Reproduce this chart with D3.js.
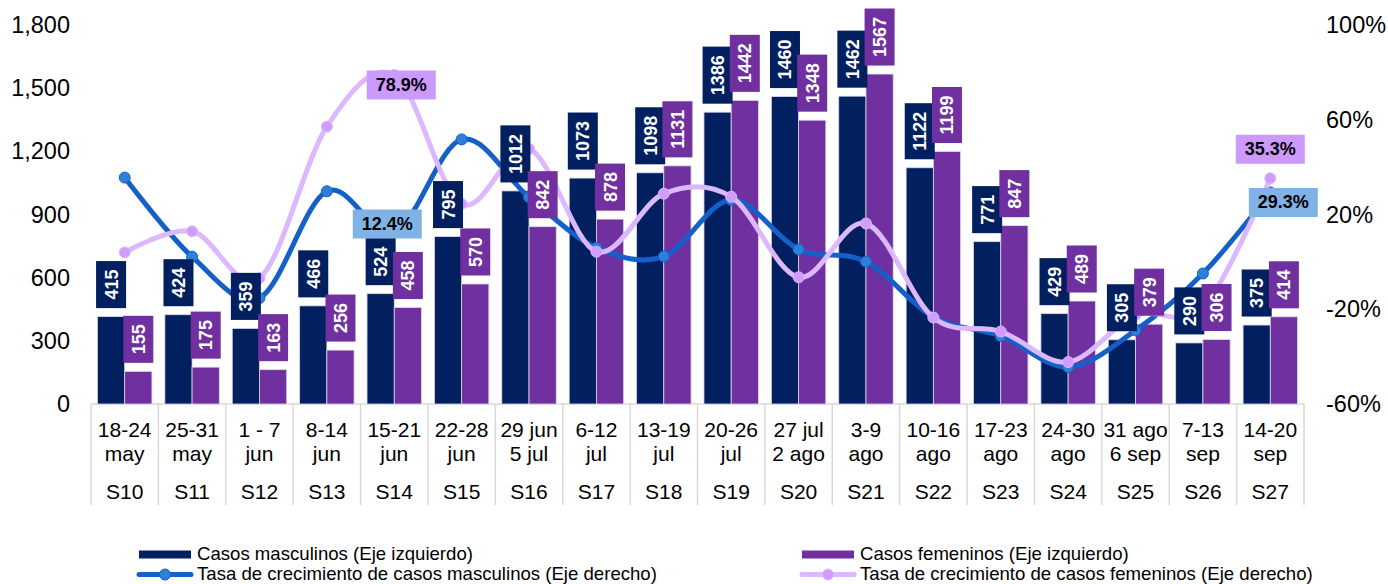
<!DOCTYPE html>
<html>
<head>
<meta charset="utf-8">
<script src="https://cdn.jsdelivr.net/npm/d3@7/dist/d3.min.js"></script>
<style>
  html, body { margin: 0; padding: 0; background: #ffffff; }
  svg { display: block; font-family: "Liberation Sans", Arial, sans-serif; }
</style>
</head>
<body>
<svg id="chart" width="1388" height="584"></svg>
<script>
// ---------------- DATA ----------------
const weeks = ["S10","S11","S12","S13","S14","S15","S16","S17","S18","S19","S20","S21","S22","S23","S24","S25","S26","S27"];
const dateLine1 = ["18-24","25-31","1 - 7","8-14","15-21","22-28","29 jun","6-12","13-19","20-26","27 jul","3-9","10-16","17-23","24-30","31 ago","7-13","14-20"];
const dateLine2 = ["may","may","jun","jun","jun","jun","5 jul","jul","jul","jul","2 ago","ago","ago","ago","ago","6 sep","sep","sep"];
const maleCases = [415,424,359,466,524,795,1012,1073,1098,1386,1460,1462,1122,771,429,305,290,375];
const femaleCases = [155,175,163,256,458,570,842,878,1131,1442,1348,1567,1199,847,489,379,306,414];
const maleGrowth = [35.6,2.2,-15.3,29.8,12.4,51.7,27.3,6.0,2.3,26.2,5.3,0.1,-23.3,-31.3,-44.4,-28.9,-4.9,29.3];
const femaleGrowth = [4.0,12.9,-6.9,57.1,78.9,24.5,47.7,4.3,28.8,27.5,-6.5,16.2,-23.5,-29.4,-42.3,-22.5,-19.3,35.3];
const leftTicks = [0,300,600,900,1200,1500,1800];
const rightTicks = [-60,-20,20,60,100];
const seriesNames = ["Casos masculinos (Eje izquierdo)","Casos femeninos (Eje izquierdo)",
  "Tasa de crecimiento de casos masculinos (Eje derecho)","Tasa de crecimiento de casos femeninos (Eje derecho)"];
// indices of growth points that carry a percentage label
const maleLabelIdx = [4,17];
const femaleLabelIdx = [4,17];

// ---------------- STYLE ----------------
const C = {
  male: "#021f5f", female: "#7030a0",
  maleLine: "#1560c8", maleMarker: "#2e7fd8",
  femaleLine: "#dbb8ff", femaleMarker: "#d09cff",
  maleBox: "#80b2e6", femaleBox: "#cc99ff",
  grid: "#d9d9d9", text: "#000000"
};

const svg = d3.select("#chart");
const plotL = 91, plotR = 1304, plotT = 25, plotB = 404;

const x = d3.scaleBand().domain(weeks).range([plotL, plotR]).padding(0);
const bw = x.bandwidth();
const x1 = d3.scaleBand().domain(["m","f"]).range([bw*0.096, bw*0.904]).padding(0);
const yL = d3.scaleLinear().domain([0,1800]).range([plotB, plotT]);
const yR = d3.scaleLinear().domain([-60,100]).range([plotB, plotT]);

// ---------------- AXES ----------------
const axL = svg.append("g").attr("transform", "translate(70,0)")
  .call(d3.axisLeft(yL).tickValues(leftTicks).tickSize(0).tickPadding(0).tickFormat(d3.format(",")));
axL.select(".domain").remove();
axL.selectAll("text").attr("font-size", "23.5px").attr("fill", C.text)
  .attr("font-family", "Liberation Sans, Arial, sans-serif");

const axR = svg.append("g").attr("transform", "translate(1326,0)")
  .call(d3.axisRight(yR).tickValues(rightTicks).tickSize(0).tickPadding(0).tickFormat(d => d + "%"));
axR.select(".domain").remove();
axR.selectAll("text").attr("font-size", "23.5px").attr("fill", C.text)
  .attr("font-family", "Liberation Sans, Arial, sans-serif");

// category axis frame
const xg = svg.append("g");
xg.append("line").attr("x1", plotL).attr("x2", plotR).attr("y1", plotB).attr("y2", plotB)
  .attr("stroke", C.grid).attr("stroke-width", 1.5);
const bounds = weeks.map(w => x(w)).concat([x(weeks[weeks.length-1]) + bw]);
xg.selectAll("line.sep").data(bounds).join("line").attr("class","sep")
  .attr("x1", d => d).attr("x2", d => d).attr("y1", plotB).attr("y2", 505)
  .attr("stroke", C.grid).attr("stroke-width", 1.5);
const lab = xg.selectAll("g.cat").data(weeks).join("g").attr("class","cat")
  .attr("transform", d => `translate(${x(d) + bw/2},0)`);
lab.append("text").attr("y", 436.5).attr("text-anchor","middle").attr("font-size","21px")
  .text((d,i) => dateLine1[i]);
lab.append("text").attr("y", 461).attr("text-anchor","middle").attr("font-size","21px")
  .text((d,i) => dateLine2[i]);
lab.append("text").attr("y", 499).attr("text-anchor","middle").attr("font-size","21px")
  .text(d => d);

// ---------------- BARS ----------------
const bars = svg.append("g");
bars.selectAll("rect.m").data(maleCases).join("rect").attr("class","m")
  .attr("x", (d,i) => x(weeks[i]) + x1("m")).attr("width", x1.bandwidth())
  .attr("y", d => yL(d)).attr("height", d => yL(0) - yL(d))
  .attr("fill", C.male).attr("stroke", "#dcd8e6").attr("stroke-width", 0.8);
bars.selectAll("rect.f").data(femaleCases).join("rect").attr("class","f")
  .attr("x", (d,i) => x(weeks[i]) + x1("f")).attr("width", x1.bandwidth())
  .attr("y", d => yL(d)).attr("height", d => yL(0) - yL(d))
  .attr("fill", C.female).attr("stroke", "#dcd8e6").attr("stroke-width", 0.8);

// ---------------- LINES ----------------
const xc = i => x(weeks[i]) + bw/2;
const lineM = d3.line().x((d,i) => xc(i)).y(d => yR(d)).curve(d3.curveCardinal.tension(0));
const linesG = svg.append("g");
function drawSeries(vals, lineColor, markerColor) {
  linesG.append("path").datum(vals).attr("d", lineM).attr("fill","none")
    .attr("stroke", lineColor).attr("stroke-width", 5).attr("stroke-linecap","round");
  linesG.append("g").selectAll("circle").data(vals).join("circle")
    .attr("cx", (d,i) => xc(i)).attr("cy", d => yR(d)).attr("r", 5.5)
    .attr("fill", markerColor).attr("stroke", lineColor).attr("stroke-width", 1);
}
drawSeries(maleGrowth, C.maleLine, C.maleMarker);
drawSeries(femaleGrowth, C.femaleLine, C.femaleMarker);

// ---------------- BAR LABELS ----------------
const labG = svg.append("g");
function barLabels(vals, key, fill) {
  vals.forEach((v,i) => {
    const cx = x(weeks[i]) + x1(key) + x1.bandwidth()/2;
    const bottom = yL(v) - 8.5;
    const g = labG.append("g");
    const rect = g.append("rect").attr("fill", fill);
    const t = g.append("text").attr("font-size","18px").attr("font-weight","bold").attr("fill","#ffffff")
      .attr("text-anchor","middle").attr("dominant-baseline","central").text(v);
    const len = t.node().getComputedTextLength();
    const h = len + 17;
    rect.attr("x", cx - 15).attr("y", bottom - h).attr("width", 30).attr("height", h);
    t.attr("transform", `translate(${cx + 0.5},${bottom - h/2}) rotate(-90)`);
  });
}
barLabels(maleCases, "m", C.male);
barLabels(femaleCases, "f", C.female);

// ---------------- PERCENT LABELS ----------------
function pctLabel(i, vals, fill, dx, dy) {
  const cx = xc(i) + dx, cy = yR(vals[i]) + dy;
  const g = labG.append("g");
  g.append("rect").attr("x", cx - 34.5).attr("y", cy - 14.5).attr("width", 69).attr("height", 29).attr("fill", fill);
  g.append("text").attr("x", cx).attr("y", cy).attr("text-anchor","middle").attr("dominant-baseline","central")
    .attr("font-size","18px").attr("font-weight","bold").attr("fill","#000")
    .text(d3.format(".1f")(vals[i]) + "%");
}
pctLabel(maleLabelIdx[0], maleGrowth, C.maleBox, -7, -8.5);
pctLabel(femaleLabelIdx[0], femaleGrowth, C.femaleBox, 7, 10);
pctLabel(femaleLabelIdx[1], femaleGrowth, C.femaleBox, 0, -29);
pctLabel(maleLabelIdx[1], maleGrowth, C.maleBox, 13, 10);

// ---------------- LEGEND ----------------
const leg = svg.append("g").attr("font-size","18.6px");
function legRect(xp, color, text) {
  leg.append("rect").attr("x", xp).attr("y", 550.5).attr("width", 52).attr("height", 8).attr("fill", color);
  leg.append("text").attr("x", xp + 58).attr("y", 559.5).text(text);
}
function legLine(xp, lc, mc, text) {
  leg.append("line").attr("x1", xp).attr("x2", xp + 52).attr("y1", 574.5).attr("y2", 574.5)
    .attr("stroke", lc).attr("stroke-width", 5).attr("stroke-linecap","round");
  leg.append("circle").attr("cx", xp + 26).attr("cy", 574.5).attr("r", 5.5).attr("fill", mc).attr("stroke", lc);
  leg.append("text").attr("x", xp + 58).attr("y", 580).text(text);
}
legRect(139, C.male, seriesNames[0]);
legRect(802, C.female, seriesNames[1]);
legLine(139, C.maleLine, C.maleMarker, seriesNames[2]);
legLine(802, C.femaleLine, C.femaleMarker, seriesNames[3]);
</script>
</body>
</html>
